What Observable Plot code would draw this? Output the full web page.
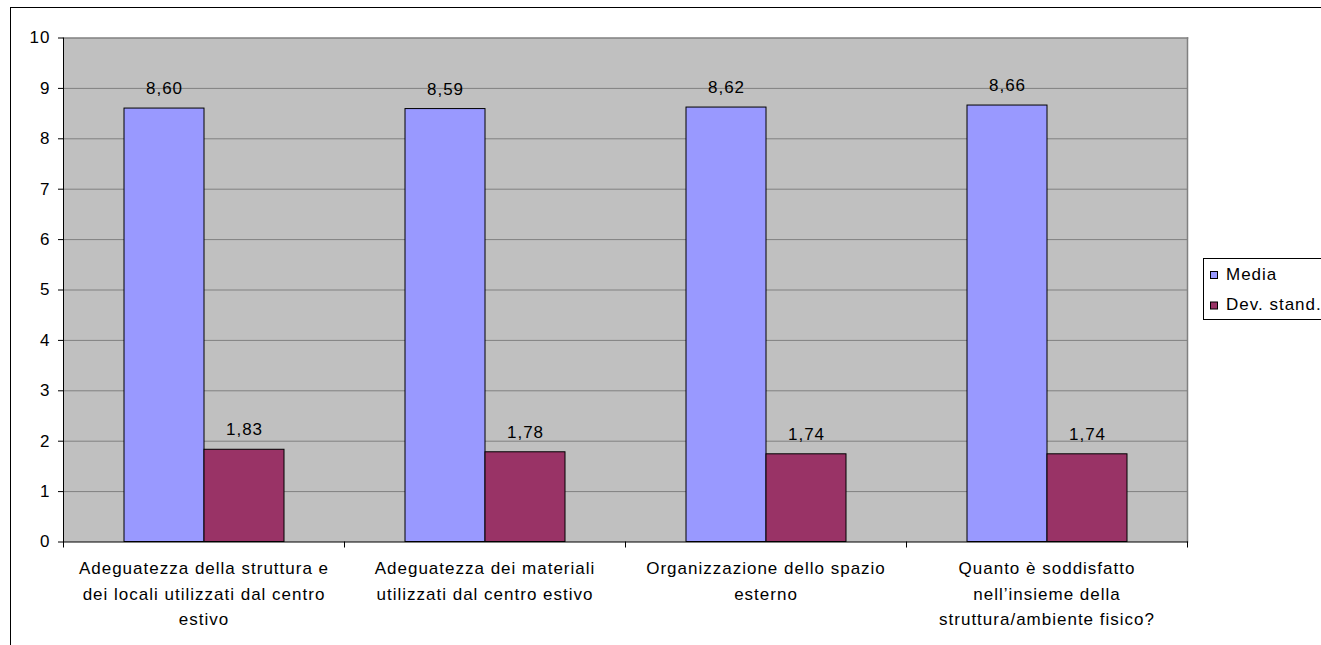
<!DOCTYPE html>
<html>
<head>
<meta charset="utf-8">
<script src="https://cdn.jsdelivr.net/npm/d3@7"></script>
<script src="https://cdn.jsdelivr.net/npm/@observablehq/plot@0.6"></script>
<style>
  html, body { margin: 0; padding: 0; background: #fff; overflow: hidden; }
  #page { position: relative; width: 1321px; height: 645px; }
  #border { position: absolute; left: 10px; top: 7px; width: 2000px; height: 2000px;
            border-left: 1px solid #000; border-top: 1px solid #000; pointer-events: none; }
  #legend { position: absolute; left: 1203px; top: 258px; }
  svg text { font-family: "Liberation Sans", Arial, sans-serif; }
</style>
</head>
<body>
<div id="page">
  <div id="chart"></div>
  <div id="legend"></div>
  <div id="border"></div>
</div>
<script>
// Questions (categories) and their wrapped axis labels
const categories = [
  "Adeguatezza della struttura e dei locali utilizzati dal centro estivo",
  "Adeguatezza dei materiali utilizzati dal centro estivo",
  "Organizzazione dello spazio esterno",
  "Quanto è soddisfatto nell’insieme della struttura/ambiente fisico?"
];
const tickLabels = [
  "Adeguatezza della struttura e\ndei locali utilizzati dal centro\nestivo",
  "Adeguatezza dei materiali\nutilizzati dal centro estivo",
  "Organizzazione dello spazio\nesterno",
  "Quanto è soddisfatto\nnell’insieme della\nstruttura/ambiente fisico?"
];

// Series
const series = ["Media", "Dev. stand."];
const colors = ["#9999FF", "#993366"];
const media = [8.60, 8.59, 8.62, 8.66];
const devStand = [1.83, 1.78, 1.74, 1.74];

// Y axis ticks
const yTicks = [0, 1, 2, 3, 4, 5, 6, 7, 8, 9, 10];
const gridTicks = [1, 2, 3, 4, 5, 6, 7, 8, 9];

const rows = categories.flatMap((c, i) => [
  {category: c, series: series[0], value: media[i]},
  {category: c, series: series[1], value: devStand[i]}
]);

const fmt = v => v.toFixed(2).replace(".", ",");
const labelOf = c => tickLabels[categories.indexOf(c)];

const chart = Plot.plot({
  width: 1321,
  height: 645,
  marginLeft: 62,
  marginRight: 133.5,
  marginTop: 37.5,
  marginBottom: 103.5,
  style: {
    fontFamily: "'Liberation Sans', Arial, sans-serif",
    fontSize: "17px",
    letterSpacing: "1px",
    background: "transparent",
    color: "#000",
    overflow: "visible"
  },
  fx: {domain: categories, padding: 0, label: null},
  x: {domain: series, paddingInner: 0, paddingOuter: 0.75, axis: null},
  y: {domain: [0, 10], label: null},
  color: {domain: series, range: colors},
  marks: [
    Plot.frame({facet: "super", fill: "#C0C0C0"}),
    Plot.gridY(gridTicks, {stroke: "#808080", strokeOpacity: 1}),
    Plot.frame({facet: "super", anchor: "top", stroke: "#808080", strokeWidth: 1.5}),
    Plot.frame({facet: "super", anchor: "right", stroke: "#808080", strokeWidth: 1.5}),
    Plot.barY(rows, {fx: "category", x: "series", y: "value", fill: "series", stroke: "#000", strokeWidth: 1}),
    Plot.text(rows, {fx: "category", x: "series", y: "value", text: d => fmt(d.value),
                     lineAnchor: "bottom", dy: -14.5, fill: "#000"}),
    Plot.frame({facet: "super", anchor: "left", stroke: "#000"}),
    Plot.frame({facet: "super", anchor: "bottom", stroke: "#000"}),
    Plot.axisY({ticks: yTicks, tickSize: 5, tickPadding: 8, stroke: "#000", fill: "#000"}),
    Plot.axisFx({anchor: "bottom", tickSize: 0, tickPadding: 14.5, tickFormat: labelOf,
                 lineHeight: 1.49, lineWidth: Infinity, fill: "#000"})
  ]
});

// Short tick marks on the category axis, at the edges of each category band
const fxScale = chart.scale("fx");
const yScale = chart.scale("y");
const bw = fxScale.bandwidth ?? (fxScale.range[1] - fxScale.range[0]) / categories.length;
const edges = categories.map(c => fxScale.apply(c));
edges.push(fxScale.apply(categories[categories.length - 1]) + bw);
const y0 = yScale.apply(0);
d3.select(chart).append("g")
  .attr("stroke", "#000")
  .selectAll("line")
  .data(edges)
  .join("line")
  .attr("x1", d => Math.round(d) + 0.5)
  .attr("x2", d => Math.round(d) + 0.5)
  .attr("y1", y0)
  .attr("y2", y0 + 6);

document.getElementById("chart").appendChild(chart);

// Legend
const leg = d3.select("#legend").append("svg")
  .attr("width", 140).attr("height", 64)
  .style("display", "block").style("overflow", "visible");
leg.append("rect")
  .attr("x", 0.5).attr("y", 0.5).attr("width", 200).attr("height", 61)
  .attr("fill", "#fff").attr("stroke", "#000");
const item = leg.selectAll("g.item").data(series).join("g")
  .attr("class", "item")
  .attr("transform", (d, i) => `translate(0,${i * 30.5})`);
item.append("rect")
  .attr("x", 7.5).attr("y", 13.5).attr("width", 7).attr("height", 7)
  .attr("fill", (d, i) => colors[i]).attr("stroke", "#000");
item.append("text")
  .attr("x", 23).attr("y", 21.5)
  .style("font-size", "17px").style("letter-spacing", "1px")
  .attr("fill", "#000")
  .text(d => d);
</script>
</body>
</html>
